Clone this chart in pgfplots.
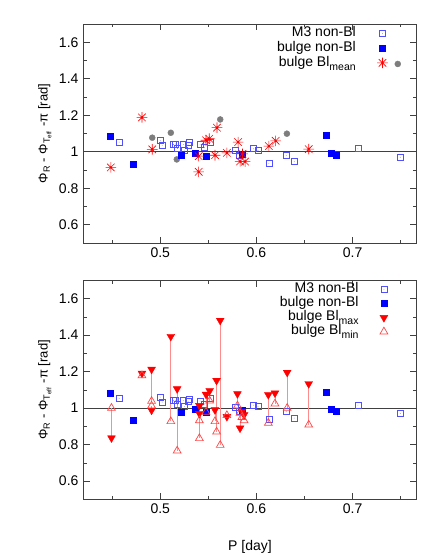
\documentclass[border=0pt]{standalone}
\usepackage{fontspec}
\setmainfont{Liberation Sans}
\usepackage{pgfplots}
\usepackage{pgfplotstable}
\pgfplotsset{compat=1.18}

\definecolor{openblue}{RGB}{80,80,255}
\definecolor{darkgr}{RGB}{64,64,64}
\definecolor{dotgray}{RGB}{125,125,125}
\definecolor{pinkline}{RGB}{255,140,140}
\definecolor{lightred}{RGB}{255,70,70}

\newcommand{\lf}{\fontsize{14}{16}\selectfont}
\newcommand{\sub}[1]{\raisebox{-0.28em}{\fontsize{10.5}{12}\selectfont #1}}

% open square with a dot in the middle
\pgfdeclareplotmark{sqdot}{%
  \pgfpathrectangle{\pgfpoint{-\pgfplotmarksize}{-\pgfplotmarksize}}{\pgfpoint{2\pgfplotmarksize}{2\pgfplotmarksize}}%
  \pgfusepathqstroke
  \pgfpathcircle{\pgfpointorigin}{0.35pt}\pgfusepathqfill}
% eight-arm asterisk
\pgfdeclareplotmark{ast8}{%
  \pgfpathmoveto{\pgfpoint{-\pgfplotmarksize}{0pt}}\pgfpathlineto{\pgfpoint{\pgfplotmarksize}{0pt}}%
  \pgfpathmoveto{\pgfpoint{0pt}{-\pgfplotmarksize}}\pgfpathlineto{\pgfpoint{0pt}{\pgfplotmarksize}}%
  \pgfpathmoveto{\pgfpoint{-0.707\pgfplotmarksize}{-0.707\pgfplotmarksize}}\pgfpathlineto{\pgfpoint{0.707\pgfplotmarksize}{0.707\pgfplotmarksize}}%
  \pgfpathmoveto{\pgfpoint{-0.707\pgfplotmarksize}{0.707\pgfplotmarksize}}\pgfpathlineto{\pgfpoint{0.707\pgfplotmarksize}{-0.707\pgfplotmarksize}}%
  \pgfusepathqstroke}

\pgfplotstableread{
x y
0.4573 1.053
0.5000 1.060
0.5020 1.033
0.5138 1.040
0.5160 1.042
0.5180 1.018
0.5240 1.040
0.5250 1.009
0.5290 1.037
0.5300 1.049
0.5414 1.038
0.5460 1.022
0.5520 1.052
0.5786 1.005
0.5827 0.982
0.5969 1.016
0.6017 1.007
0.6130 0.936
0.6310 0.980
0.6393 0.945
0.7055 1.016
0.7496 0.970
}\mthree

\pgfplotstableread{
x y
0.4476 1.084
0.4720 0.934
0.5214 0.980
0.5365 0.991
0.5480 0.976
0.5848 0.989
0.6727 1.089
0.6775 0.991
0.6827 0.981
}\bulgenon

\pgfplotstableread{
x y
0.4486 0.914
0.4810 1.188
0.4917 1.013
0.5400 0.976
0.5400 0.890
0.5476 1.063
0.5510 1.071
0.5590 1.132
0.5570 0.981
0.5693 0.994
0.5810 1.053
0.5830 0.947
0.5882 0.946
0.5855 0.988
0.6130 1.031
0.6200 1.060
0.6544 1.014
}\blmean

\pgfplotstableread{
x y
0.4917 1.077
0.5110 1.104
0.5172 0.958
0.5624 1.177
0.6317 1.099
0.7470 1.481
}\grey

\pgfplotstableread{
x max min
0.4493 0.836 1.000
0.4810 1.190 1.178
0.4910 1.212 1.038
0.4910 0.988 1.012
0.5110 1.392 0.927
0.5176 1.105 0.766
0.5407 1.013 0.932
0.5407 0.970 0.834
0.5476 1.075 0.978
0.5514 1.095 1.040
0.5569 0.990 0.927
0.5586 1.151 0.870
0.5624 1.480 0.797
0.5693 0.953 0.960
0.5803 1.078 1.013
0.5830 0.890 0.973
0.5850 0.981 0.950
0.5872 0.963 0.932
0.6124 1.073 0.918
0.6193 1.082 1.024
0.6320 1.195 1.000
0.6544 1.133 0.908
}\blpairs

\pgfplotsset{
  gp/.style={
    scale only axis, width=333.4pt, height=219pt,
    xmin=0.42, xmax=0.7667, ymin=0.5, ymax=1.7,
    xtick={0.5,0.6,0.7}, minor xtick={0.45,0.55,0.65,0.75},
    ytick={0.6,0.8,1,1.2,1.4,1.6}, minor ytick={0.5,0.7,0.9,1.1,1.3,1.5,1.7},
    tick align=inside, major tick length=6.5pt, minor tick length=3.5pt,
    tick style={darkgr, line width=0.6pt},
    axis line style={darkgr, line width=0.9pt},
    /pgf/number format/assume math mode=true,
    ylabel={Φ\textsubscript{R} - Φ\textsubscript{T\textsubscript{eff}} -π [rad]},
    ylabel style={font=\fontsize{13}{15}\selectfont, yshift=-2pt},
    legend plot pos=right,
    legend cell align=right,
    legend style={draw=none, fill=none, at={(0.914,0.99)}, anchor=north east,
      inner sep=0pt,
      nodes={inner sep=0.5pt, text height=10pt, text depth=3.6pt},
      column sep=21pt, row sep=0pt},
  },
  m3/.style={only marks, mark=sqdot, mark size=3pt, color=openblue,
    mark options={draw=openblue, fill=openblue, line width=0.7pt}},
  bnon/.style={only marks, mark=square*, mark size=3pt, color=blue},
}

\begin{document}
\lf
\begin{tikzpicture}[font=\lf]
\path[use as bounding box] (0,0) rectangle (436pt,-559pt);

\begin{axis}[gp, at={(83.3pt,-243pt)}, anchor=south west]
  \addplot[darkgr, line width=0.7pt, forget plot] coordinates {(0.42,1) (0.7667,1)};
  \addplot[only marks, mark=*, mark size=3pt, color=dotgray, forget plot] table[x=x,y=y] {\grey};
  \addplot[m3] table[x=x,y=y] {\mthree};
  \addplot[bnon] table[x=x,y=y] {\bulgenon};
  \addplot[only marks, mark=ast8, mark size=5.3pt, color=red, mark options={line width=0.6pt}] table[x=x,y=y] {\blmean};
  \legend{{\lf M3 non-Bl}, {\lf bulge non-Bl}, {\lf bulge Bl\sub{mean}}}
\end{axis}

\begin{axis}[gp, at={(83.3pt,-499.3pt)}, anchor=south west, xlabel={P [day]},
  xlabel style={yshift=-17pt},
  legend style={nodes={text height=9.6pt, text depth=3.4pt}}]
  \addplot[darkgr, line width=0.7pt, forget plot] coordinates {(0.42,1) (0.7667,1)};
  \addplot[draw=none, mark=none, forget plot,
    error bars/.cd, y dir=minus, y explicit, error mark=none,
    error bar style={pinkline, line width=0.9pt}]
    table[x=x, y=max, y error minus expr=\thisrow{max}-\thisrow{min}] {\blpairs};
  \addplot[m3] table[x=x,y=y] {\mthree};
  \addplot[bnon] table[x=x,y=y] {\bulgenon};
  \addplot[only marks, mark=triangle*, mark size=4.5pt, color=red, mark options={rotate=180}] table[x=x,y=max] {\blpairs};
  \addplot[only marks, mark=triangle, mark size=4.5pt, color=lightred, mark options={line width=0.7pt}] table[x=x,y=min] {\blpairs};
  \legend{{\lf M3 non-Bl}, {\lf bulge non-Bl}, {\lf bulge Bl\sub{max}}, {\lf bulge Bl\sub{min}}}
\end{axis}
\end{tikzpicture}
\end{document}
